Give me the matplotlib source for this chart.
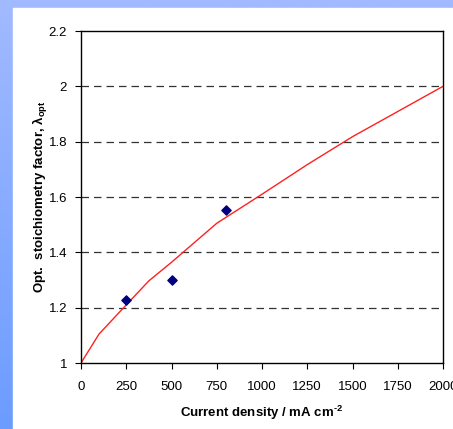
import numpy as np
import matplotlib
matplotlib.use("Agg")
import matplotlib.pyplot as plt
from matplotlib.colors import LinearSegmentedColormap

# data
exp_j = [250, 500, 800]
exp_lam = [1.228, 1.30, 1.553]
fit_j = [0, 100, 250, 375, 500, 750, 1000, 1250, 1500, 1750, 2000]
fit_lam = [1.0, 1.105, 1.21, 1.297, 1.364, 1.505, 1.61, 1.717, 1.818, 1.909, 2.0]
x_ticks = [0, 250, 500, 750, 1000, 1250, 1500, 1750, 2000]
y_ticks = [1, 1.2, 1.4, 1.6, 1.8, 2, 2.2]
y_ticklabels = ["1", "1.2", "1.4", "1.6", "1.8", "2", "2.2"]

plt.rcParams['font.family'] = ['Liberation Sans', 'DejaVu Sans']
plt.rcParams['mathtext.fontset'] = 'custom'
plt.rcParams['mathtext.rm'] = 'Liberation Sans:bold'
plt.rcParams['mathtext.it'] = 'Liberation Sans:bold'
plt.rcParams['mathtext.bf'] = 'Liberation Sans:bold'
plt.rcParams['axes.unicode_minus'] = False

W, H = 453, 429
fig = plt.figure(figsize=(W/100, H/100), dpi=100)

# background gradient
bg = fig.add_axes([0, 0, 1, 1])
cmap = LinearSegmentedColormap.from_list("bg", ["#a2baff", "#6c9cff"])
grad = np.linspace(0, 1, 256).reshape(-1, 1)
bg.imshow(grad, aspect='auto', cmap=cmap, extent=[0, 1, 0, 1], origin='upper')
bg.add_patch(plt.Rectangle((13/W, 0), 1, 1 - 8/H, color='white', zorder=2))
bg.set_xlim(0, 1); bg.set_ylim(0, 1)
bg.axis('off')

ax = fig.add_axes([81/W, 1 - 363/H, (443-81)/W, (363-31)/H])
ax.set_xlim(0, 2000)
ax.set_ylim(1, 2.2)
for y in y_ticks[1:-1]:
    ax.axhline(y, color='#333333', lw=0.9, ls=(0, (6, 4)), zorder=1)
ax.plot(fit_j, fit_lam, color='#ff2020', lw=1.0, zorder=2)
ax.scatter(exp_j, exp_lam, marker='D', s=22, color='#000080', zorder=3)
ax.set_xticks(x_ticks)
ax.set_xticklabels([str(v) for v in x_ticks])
ax.set_yticks(y_ticks)
ax.set_yticklabels(y_ticklabels)
ax.tick_params(direction='out', length=4, width=0.8, labelsize=9.5, pad=6, colors='black')
ax.tick_params(axis='x', pad=9)
for s in ax.spines.values():
    s.set_linewidth(1.0)
ax.set_xlabel("Current density / mA cm$^{\u2010\\mathrm{2}}$", fontsize=9.5, fontweight='bold', labelpad=8)
ax.set_ylabel("Opt.  stoichiometry factor, λ$_{\\mathrm{opt}}$", fontsize=9.5, fontweight='bold', labelpad=-1)

fig.savefig("out.png", dpi=100)
